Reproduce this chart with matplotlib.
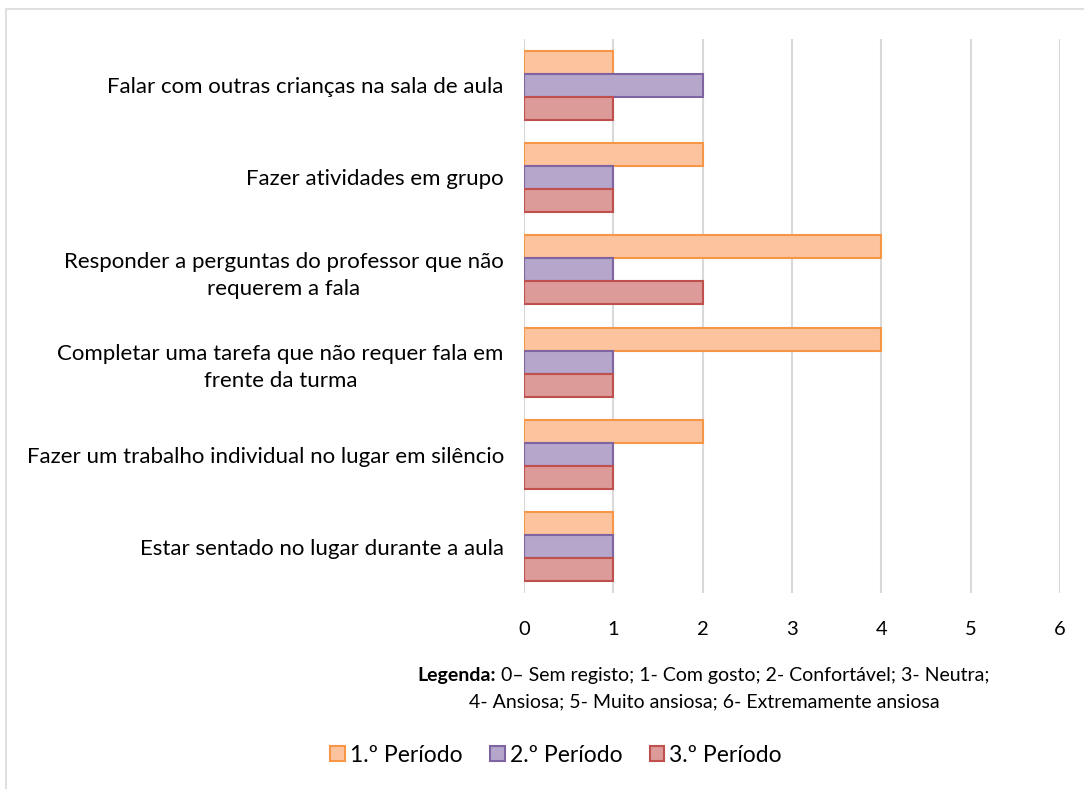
import matplotlib
matplotlib.use("Agg")
import matplotlib.pyplot as plt
import numpy as np
from matplotlib.patches import Rectangle

plt.rcParams['font.family'] = ['Lato', 'DejaVu Sans']

categories = [
    "Falar com outras crianças na sala de aula",
    "Fazer atividades em grupo",
    "Responder a perguntas do professor que não\nrequerem a fala",
    "Completar uma tarefa que não requer fala em\nfrente da turma",
    "Fazer um trabalho individual no lugar em silêncio",
    "Estar sentado no lugar durante a aula",
]
series_names = ["1.º Período", "2.º Período", "3.º Período"]
p1 = [1, 2, 4, 4, 2, 1]
p2 = [2, 1, 1, 1, 1, 1]
p3 = [1, 1, 2, 1, 1, 1]
xticks = [0, 1, 2, 3, 4, 5, 6]

faces = ["#fbc49f", "#b5a6cb", "#dc9a98"]
edges = ["#f79646", "#8064a2", "#c0504d"]

fig = plt.figure(figsize=(10.84, 7.89), dpi=100)
ax = fig.add_axes([0.4834, 0.2484, 0.4945, 0.7022])

n = len(categories)
y = np.arange(n)
h = 0.25
for i, (vals, fc, ec, name) in enumerate(zip([p1, p2, p3], faces, edges, series_names)):
    ax.barh(y + (i - 1) * h, vals, height=h, color=fc, edgecolor=ec, linewidth=1.5,
            label=name, zorder=3)

ax.set_ylim(n - 0.5, -0.5)
ax.set_xlim(0, 6)
ax.set_xticks(xticks)
ax.set_yticks(y)
ax.set_yticklabels(categories, fontsize=16, linespacing=1.45)
ax.tick_params(axis='x', labelsize=14.5, length=0, pad=20)
ax.tick_params(axis='y', length=0, pad=14.5)
for lbl in ax.get_yticklabels():
    lbl.set_horizontalalignment('right')
    lbl.set_multialignment('center')
ax.grid(axis='x', color='#d9d9d9', linewidth=1.5, zorder=0)
for s in ax.spines.values():
    s.set_visible(False)

fs_leg = 14
lx = 417 / 1084
ly1 = 1 - 676 / 789
fig.text(lx, ly1, "Legenda:", fontsize=fs_leg, fontweight='bold', ha='left', va='center')
fig.canvas.draw()
r = fig.canvas.get_renderer()
bb = fig.texts[0].get_window_extent(renderer=r)
x2 = bb.x1 / fig.bbox.width
fig.text(x2, ly1, " 0– Sem registo; 1- Com gosto; 2- Confortável; 3- Neutra;",
         fontsize=fs_leg, ha='left', va='center')
fig.text(704 / 1084, 1 - 702 / 789, "4- Ansiosa; 5- Muito ansiosa; 6- Extremamente ansiosa",
         fontsize=fs_leg, ha='center', va='center')

leg = fig.legend(loc='center', bbox_to_anchor=(556 / 1084, 1 - 755 / 789), ncol=3, frameon=False,
                 fontsize=16.5, handlelength=0.64, handleheight=0.64, handletextpad=0.22,
                 columnspacing=1.2)

fig.add_artist(Rectangle((0.0055, -0.01), 1.0, 0.9985, transform=fig.transFigure,
                         fill=False, edgecolor='#d9d9d9', linewidth=1.2))

fig.savefig("out.png", dpi=100)
